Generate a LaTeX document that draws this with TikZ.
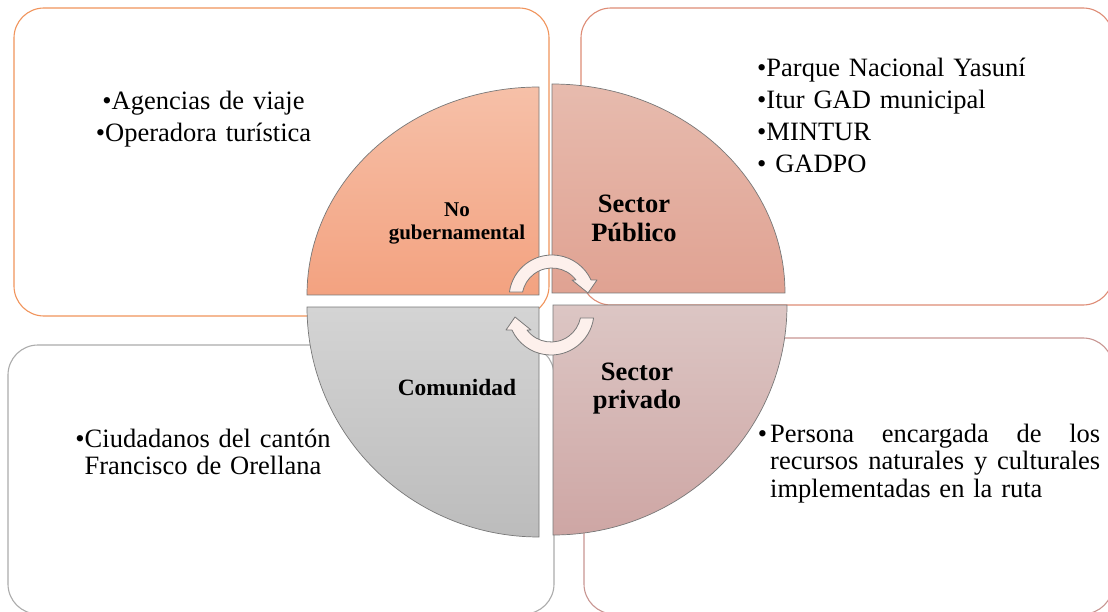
\documentclass[tikz,border=0pt]{standalone}
\usepackage{fontspec}
\setmainfont{Liberation Serif}
\usetikzlibrary{calc}
\definecolor{tlbox}{RGB}{241,148,92}
\definecolor{trbox}{RGB}{222,140,118}
\definecolor{blbox}{RGB}{172,172,172}
\definecolor{brbox}{RGB}{200,150,146}
\definecolor{tltop}{RGB}{246,192,168}
\definecolor{tlbot}{RGB}{243,162,128}
\definecolor{trtop}{RGB}{231,187,174}
\definecolor{trbot}{RGB}{224,162,146}
\definecolor{bltop}{RGB}{212,212,212}
\definecolor{blbot}{RGB}{188,188,188}
\definecolor{brtop}{RGB}{220,198,196}
\definecolor{brbot}{RGB}{206,166,164}
\definecolor{qline}{RGB}{120,120,120}
\definecolor{arrowfill}{RGB}{253,240,236}
\begin{document}
\begin{tikzpicture}[x=1pt,y=-1pt,
  infobox/.style={line width=1.1pt, rounded corners=30pt},
  quad/.style={draw=qline, line width=0.7pt},
  cyclearrow/.style={draw=qline, line width=0.8pt, fill=arrowfill, line join=round},
  bodytext/.style={inner sep=0pt, font=\fontsize{26.5}{31.7}\selectfont},
  bodytight/.style={inner sep=0pt, font=\fontsize{26.5}{27.5}\selectfont},
  labeltext/.style={inner sep=0pt, align=center, text width=200pt}
]
\useasboundingbox (0,0) rectangle (1108,612);
\clip (0,0) rectangle (1108,612);
\fill[white] (0,0) rectangle (1108,612);

% information boxes
\draw[infobox, draw=tlbox] (14,8) rectangle (549,316);
\draw[infobox, draw=trbox] (581,8) rectangle (1113,305);
\draw[infobox, draw=blbox] (8,345) rectangle (554,614);
\draw[infobox, draw=brbox] (584,338) rectangle (1113,614);

% quadrants
\shade[quad, top color=tltop, bottom color=tlbot]
  (539,295) -- (307,295) arc[start angle=180, end angle=270, x radius=232, y radius=208] -- cycle;
\shade[quad, top color=trtop, bottom color=trbot]
  (552,293) -- (552,84) arc[start angle=270, end angle=360, x radius=233, y radius=209] -- cycle;
\shade[quad, top color=bltop, bottom color=blbot]
  (539,307) -- (539,537) arc[start angle=90, end angle=180, x radius=232, y radius=230] -- cycle;
\shade[quad, top color=brtop, bottom color=brbot]
  (553,305) -- (787,305) arc[start angle=0, end angle=90, x radius=234, y radius=230] -- cycle;

% quadrant labels
\node[labeltext, anchor=base, font=\bfseries\fontsize{21}{23}\selectfont] (ong) at (457,217) {No\\gubernamental};
\node[labeltext, anchor=base, font=\bfseries\fontsize{26.5}{28.5}\selectfont] (pub) at (634,213) {Sector\\Público};
\node[labeltext, anchor=base, font=\bfseries\fontsize{23.4}{26}\selectfont] (com) at (457,395) {Comunidad};
\node[labeltext, anchor=base, font=\bfseries\fontsize{26.5}{28.5}\selectfont] (priv) at (637,380) {Sector\\privado};

% cycle arrows
\coordinate (c1) at (552,298);
\coordinate (c2) at (551,312);
\path[cyclearrow] ($(c1)+(-172:43)$) arc[start angle=-172, end angle=-24.7, radius=43]
  -- ($(c1)+(45,-18)$) -- ($(c1)+(36,-5)$) -- ($(c1)+(20,-18)$)
  -- ($(c1)+(-36.9:30)$) arc[start angle=-36.9, end angle=-168.5, radius=30] -- cycle;
\path[cyclearrow] ($(c2)+(8:43)$) arc[start angle=8, end angle=155.3, radius=43]
  -- ($(c2)+(-45,18)$) -- ($(c2)+(-36,5)$) -- ($(c2)+(-20,18)$)
  -- ($(c2)+(143.1:30)$) arc[start angle=143.1, end angle=11.5, radius=30] -- cycle;

% box texts
\node[bodytext, anchor=base, text width=300pt, align=center] (tltext) at (203.5,110)
  {•Agencias de viaje\\•Operadora turística};
\node[bodytext, anchor=base west, text width=330pt, align=left] (trtext) at (757,77)
  {•Parque Nacional Yasuní\\•Itur GAD municipal\\•MINTUR\\• GADPO};
\node[bodytight, anchor=base, text width=300pt, align=center] (bltext) at (203,447)
  {•Ciudadanos del cantón\\Francisco de Orellana};
\node[bodytight, anchor=base west, text width=330pt, align=left] (brtext) at (770,442)
  {\leavevmode\hbox to 330pt{\llap{•\hspace{3pt}}Persona\hfill encargada\hfill de\hfill los}\\
   \leavevmode\hbox to 330pt{recursos\hfill naturales\hfill y\hfill culturales}\\
   implementadas en la ruta};
\end{tikzpicture}
\end{document}
